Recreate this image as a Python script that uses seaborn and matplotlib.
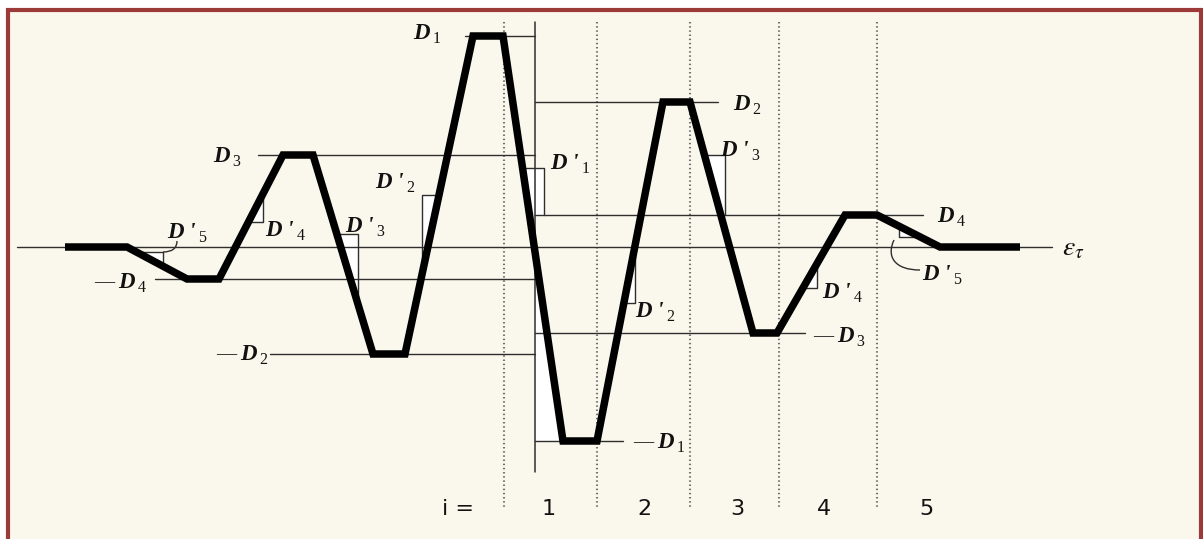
import numpy as np
import pandas as pd
import matplotlib
matplotlib.use("Agg")
import matplotlib.pyplot as plt
import seaborn as sns
from matplotlib.patches import Rectangle, Polygon, PathPatch
from matplotlib.path import Path

# ---------------------------------------------------------------
# Loading path (time position, strain level; 0 = mean strain)
# ---------------------------------------------------------------
t_path = [65, 127, 187, 219, 283, 313, 373, 405, 473, 503,
          563, 597, 663, 690, 753, 777, 845, 877, 940, 1020]
eps_path = [0, 0, -32, -32, 92, 92, -107, -107, 211, 211,
            -194, -194, 145, 145, -86, -86, 32, 32, 0, 0]

# Amplitude reference lines: level, start, end
ref_level = [211, 92, -32, -107, 145, 32, -86, -194]
ref_start = [465, 258, 155, 270, 535, 535, 535, 535]
ref_end = [535, 535, 535, 535, 718, 923, 805, 623]

# Amplitude labels: sign, subscript, x, baseline level
amp_neg = [False, False, True, True, False, False, True, True]
amp_sub = ["1", "3", "4", "2", "2", "4", "3", "1"]
amp_x = [413, 213, 118, 240, 733, 937, 837, 657]
amp_y = [208, 85, -41, -113, 137, 25, -95, -201]

# Slope markers: path segment, corner x, corner level, end level (None = meets path)
slope_seg = [1, 3, 5, 7, 9, 11, 13, 15, 17]
slope_cx = [163, 263, 358, 422, 544, 635, 725, 817, 899]
slope_cy = [-5, 25, 13, 52, 79, -56, 92, -41, 10]
slope_end = [None, None, None, None, 32, None, 32, None, None]

# Slope labels: subscript, x, baseline level
slope_sub = ["5", "4", "3", "2", "1", "2", "3", "4", "5"]
slope_x = [167, 265, 345, 375, 550, 635, 720, 822, 922]
slope_y = [9, 11, 15, 59, 78, -70, 91, -51, -33]

# Cycle index boundaries and labels
cycle_edges = [504, 597, 690, 779, 877]
cycle_labels = ["1", "2", "3", "4", "5"]
cycle_x = [549, 644, 737, 824, 926]

axis_x = 535
ink = "#111111"
thin = "#2e2e2e"
cream = "#FAF8EC"
frame = "#9C3A3A"

sns.set_theme(style="white")
plt.rcParams["font.family"] = ["Liberation Serif", "DejaVu Serif"]
plt.rcParams["mathtext.fontset"] = "stix"

fig = plt.figure(figsize=(12.03, 5.39), dpi=100, facecolor="white")
ax = fig.add_axes([0, 0, 1, 1])

# framed panel
ax.add_patch(Rectangle((8, -400), 1193, 637, facecolor=cream, edgecolor=frame,
                       linewidth=3.0, zorder=0, clip_on=False))

# cycle separators
for xe in cycle_edges:
    ax.plot([xe, xe], [225, -262], color="#707070", linewidth=1.5,
            linestyle=(0, (0.7, 1.3)), zorder=1)

# mean strain axis and vertical axis
ax.plot([17, 1052], [0, 0], color=thin, linewidth=1.0, zorder=2)
ax.plot([axis_x, axis_x], [225, -225], color=thin, linewidth=1.1, zorder=2)

# amplitude reference lines
for lv, xs, xe in zip(ref_level, ref_start, ref_end):
    ax.plot([xs, xe], [lv, lv], color=thin, linewidth=1.0, zorder=2)


def path_x(seg, level):
    x0, x1 = t_path[seg], t_path[seg + 1]
    y0, y1 = eps_path[seg], eps_path[seg + 1]
    return x0 + (level - y0) * (x1 - x0) / (y1 - y0)


def path_y(seg, x):
    x0, x1 = t_path[seg], t_path[seg + 1]
    y0, y1 = eps_path[seg], eps_path[seg + 1]
    return y0 + (x - x0) * (y1 - y0) / (x1 - x0)


# slope markers (white triangles bounded by the path)
for seg, cx, cy, end in zip(slope_seg, slope_cx, slope_cy, slope_end):
    p1 = (path_x(seg, cy), cy)
    p2 = (cx, cy)
    if end is None:
        p3 = (cx, path_y(seg, cx))
        pts = [p1, p2, p3]
    else:
        p3 = (cx, end)
        pts = [p1, p2, p3, (path_x(seg, end), end)]
    ax.add_patch(Polygon(pts, closed=True, facecolor="white", edgecolor="none", zorder=1.5))
    ax.plot([p1[0], p2[0], p3[0]], [p1[1], p2[1], p3[1]], color=thin, linewidth=1.0, zorder=2)

# region between the vertical axis and the first descending branch
cross = path_y(9, axis_x)
ax.add_patch(Polygon([(axis_x, cross), (axis_x, eps_path[10]), (t_path[10], eps_path[10])],
                     closed=True, facecolor="white", edgecolor="none", zorder=1.5))

# leader curves for the D'5 labels
ax.add_patch(PathPatch(Path([(163, -5), (177, -5), (177, 6)],
                            [Path.MOVETO, Path.CURVE3, Path.CURVE3]),
                       facecolor="none", edgecolor=thin, linewidth=1.0, zorder=2))
ax.add_patch(PathPatch(Path([(894, 7), (886, -10), (895, -23), (920, -23)],
                            [Path.MOVETO, Path.CURVE4, Path.CURVE4, Path.CURVE4]),
                       facecolor="none", edgecolor=thin, linewidth=1.0, zorder=2))

# loading path
df = pd.DataFrame({"t": t_path, "eps": eps_path})
sns.lineplot(data=df, x="t", y="eps", ax=ax, color="black", linewidth=5.4,
             estimator=None, sort=False, zorder=3,
             solid_joinstyle="miter", solid_capstyle="butt")
ax.set_xlim(0, 1203)
ax.set_ylim(247 - 539, 247)
ax.set_axis_off()

main_kw = dict(fontsize=16.5, style="italic", weight="bold", color=ink,
               ha="left", va="baseline", zorder=4)


def label(x, y, main, sub, neg=False):
    t = ax.text(x, y, main, **main_kw)
    ax.annotate(sub, xy=(1, 0), xycoords=t, xytext=(2, 0.5),
                textcoords="offset points", fontsize=11.5, color=ink,
                ha="left", va="baseline", zorder=4)
    if neg:
        ax.text(x - 4, y + 1, "\u2014", fontsize=14.5, color=ink,
                ha="right", va="baseline", zorder=4)


for neg, sub, x, y in zip(amp_neg, amp_sub, amp_x, amp_y):
    label(x, y, "D", sub, neg)

for sub, x, y in zip(slope_sub, slope_x, slope_y):
    label(x, y, "D '", sub)

# strain axis label
ax.text(1062, -8, r"$\epsilon_{\tau}$", fontsize=20, color=ink,
        ha="left", va="baseline", zorder=4)

# cycle numbering
ax.text(442, -268, "i =", family="DejaVu Sans", fontsize=16, color=ink,
        ha="left", va="baseline")
for lab, x in zip(cycle_labels, cycle_x):
    ax.text(x, -268, lab, family="DejaVu Sans", fontsize=16, color=ink,
            ha="center", va="baseline")

fig.savefig("out.png", dpi=100, facecolor="white")
